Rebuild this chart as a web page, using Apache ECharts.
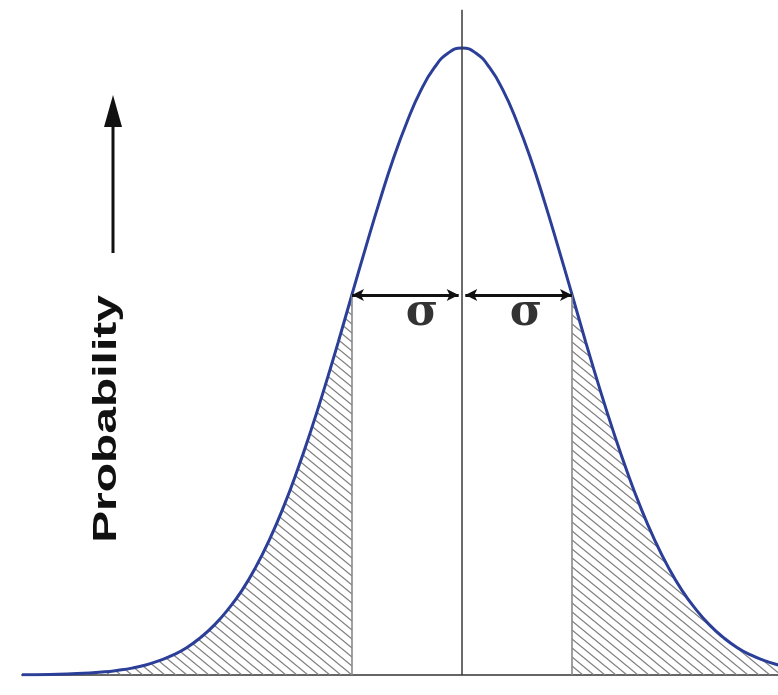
<!DOCTYPE html>
<html>
<head>
<meta charset="utf-8">
<script src="https://cdn.jsdelivr.net/npm/echarts@6/dist/echarts.min.js"></script>
<style>
  html, body { margin: 0; padding: 0; background: #ffffff; }
  #chart { width: 778px; height: 695px; }
</style>
</head>
<body>
<div id="chart"></div>
<script>
// Position along the axis, in standard deviations from the mean
const sigmaSteps = [-4, -3.75, -3.5, -3.25, -3.125, -3, -2.875, -2.75, -2.625, -2.5, -2.375, -2.25, -2.125,
  -2, -1.875, -1.75, -1.625, -1.5, -1.375, -1.25, -1.125, -1, -0.875, -0.75, -0.625, -0.5, -0.375, -0.25, -0.125,
  0, 0.125, 0.25, 0.375, 0.5, 0.625, 0.75, 0.875, 1, 1.125, 1.25, 1.375, 1.5, 1.625, 1.75, 1.875,
  2, 2.125, 2.25, 2.375, 2.5, 2.625, 2.75, 2.875];
// Relative probability density (peak = 1)
const density = [0.0003, 0.0009, 0.0022, 0.0051, 0.0076, 0.011, 0.016, 0.023, 0.032, 0.044, 0.060, 0.080, 0.105,
  0.135, 0.172, 0.216, 0.267, 0.325, 0.389, 0.458, 0.531, 0.607, 0.682, 0.755, 0.823, 0.882, 0.932, 0.969, 0.992,
  1.000, 0.992, 0.969, 0.932, 0.882, 0.823, 0.755, 0.682, 0.607, 0.531, 0.458, 0.389, 0.325, 0.267, 0.216, 0.172,
  0.135, 0.105, 0.080, 0.060, 0.044, 0.032, 0.023, 0.016];
const sigmaMarks = [-1, 1];
const sigmaLabel = 'σ';
const axisTitle = 'Probability';

const curve = sigmaSteps.map((s, i) => [s, density[i]]);
const leftTail = curve.filter(p => p[0] <= sigmaMarks[0]);
const rightTail = curve.filter(p => p[0] >= sigmaMarks[1]);
const densityAt = s => density[sigmaSteps.indexOf(s)];

// Diagonal hatch tile for the tail areas
function hatchTile() {
  const w = 11, h = 9;
  const c = document.createElement('canvas');
  c.width = w; c.height = h;
  const ctx = c.getContext('2d');
  ctx.strokeStyle = '#808080';
  ctx.lineWidth = 1.3;
  for (let k = -3; k <= 3; k++) {
    ctx.beginPath();
    ctx.moveTo(k * w - w * 2, -h * 2);
    ctx.lineTo(k * w + w * 2, h * 2);
    ctx.stroke();
  }
  return c;
}
const hatch = { image: hatchTile(), repeat: 'repeat' };

const chart = echarts.init(document.getElementById('chart'));
const arrowY = densityAt(sigmaMarks[1]) - 0.001;

chart.setOption({
  animation: false,
  backgroundColor: '#ffffff',
  grid: { left: 22, right: 0, top: 8, bottom: 20 },
  xAxis: {
    type: 'value', min: -4, max: 2.873,
    axisLine: { show: true, lineStyle: { color: '#666666', width: 2 } },
    axisTick: { show: false }, axisLabel: { show: false }, splitLine: { show: false }
  },
  yAxis: {
    type: 'value', min: 0, max: 1.0638,
    axisLine: { show: false }, axisTick: { show: false }, axisLabel: { show: false }, splitLine: { show: false }
  },
  series: [
    {
      type: 'line', data: leftTail, smooth: true, showSymbol: false, z: 1,
      lineStyle: { width: 0 }, areaStyle: { color: hatch, opacity: 1 }
    },
    {
      type: 'line', data: rightTail, smooth: true, showSymbol: false, z: 1,
      lineStyle: { width: 0 }, areaStyle: { color: hatch, opacity: 1 }
    },
    {
      type: 'line', data: [], z: 2,
      markLine: {
        silent: true, symbol: 'none', label: { show: false },
        lineStyle: { type: 'solid', color: '#888888', width: 1.6 },
        data: sigmaMarks.map(s => [{ coord: [s, 0] }, { coord: [s, densityAt(s)] }])
      }
    },
    {
      type: 'line', data: [], z: 2,
      markLine: {
        silent: true, symbol: 'none', label: { show: false },
        lineStyle: { type: 'solid', color: '#3a3a3a', width: 1.5 },
        data: [[{ coord: [0, 0] }, { coord: [0, 1.061] }]]
      }
    },
    {
      type: 'line', data: curve, smooth: true, showSymbol: false, z: 3,
      lineStyle: { color: '#2b3f98', width: 3 }
    },
    {
      type: 'line', data: [], z: 4,
      markLine: {
        silent: true, symbol: ['arrow', 'arrow'], symbolSize: [9, 12], label: { show: false },
        lineStyle: { type: 'solid', color: '#111111', width: 3 },
        data: [
          [{ coord: [sigmaMarks[0], arrowY] }, { coord: [-0.03, arrowY] }],
          [{ coord: [0.03, arrowY] }, { coord: [sigmaMarks[1], arrowY] }]
        ]
      }
    },
    {
      type: 'scatter', symbolSize: 0, z: 5, silent: true,
      data: [[-0.364, 0.577], [0.582, 0.577]],
      label: {
        show: true, position: 'inside', formatter: sigmaLabel,
        fontFamily: 'DejaVu Serif', fontWeight: 'bold', fontSize: 44, color: '#000000'
      }
    }
  ],
  graphic: [
    {
      type: 'text', x: 107, y: 419, rotation: Math.PI / 2, scaleX: 1.41, scaleY: 1,
      style: {
        text: axisTitle, fontFamily: 'Liberation Sans', fontWeight: 'bold', fontSize: 34,
        fill: '#111111', align: 'center', verticalAlign: 'middle'
      }
    },
    {
      type: 'line', shape: { x1: 113, y1: 253, x2: 113, y2: 120 },
      style: { stroke: '#111111', lineWidth: 3 }
    },
    {
      type: 'polygon', shape: { points: [[113, 95], [104, 127], [122, 127]] },
      style: { fill: '#111111' }
    }
  ]
});
</script>
</body>
</html>
